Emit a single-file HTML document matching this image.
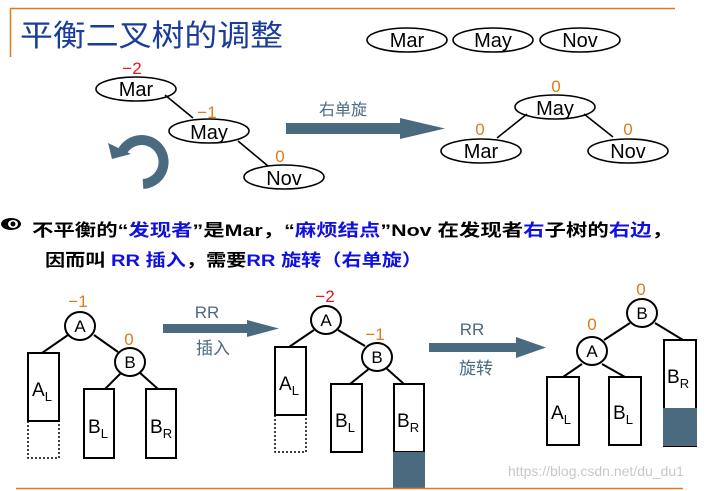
<!DOCTYPE html>
<html><head><meta charset="utf-8"><style>
html,body{margin:0;padding:0;background:#fff;width:713px;height:491px;overflow:hidden}
svg{display:block}
text{font-family:"Liberation Sans","Noto Sans CJK SC",sans-serif}
</style></head><body>
<svg width="713" height="491" viewBox="0 0 713 491" xmlns="http://www.w3.org/2000/svg">
<line x1="10" y1="8.5" x2="675" y2="8.5" stroke="#e07a1c" stroke-width="1.5"/>
<line x1="10.5" y1="8" x2="10.5" y2="57" stroke="#e07a1c" stroke-width="1.5"/>
<text x="20" y="46" font-size="30" fill="#1a3c9c" textLength="263" lengthAdjust="spacingAndGlyphs">平衡二叉树的调整</text>

<g fill="none" stroke="#000" stroke-width="1.6">
<ellipse cx="407" cy="40" rx="40" ry="12"/>
<ellipse cx="493" cy="40" rx="40" ry="12"/>
<ellipse cx="580" cy="40" rx="40" ry="12"/>
<ellipse cx="136" cy="89" rx="40" ry="12"/>
<ellipse cx="209" cy="131" rx="40" ry="12"/>
<ellipse cx="284" cy="177" rx="40" ry="12"/>
<ellipse cx="555" cy="107" rx="40" ry="12"/>
<ellipse cx="481" cy="151" rx="40" ry="12"/>
<ellipse cx="628" cy="151" rx="40" ry="12"/>
<line x1="165" y1="95" x2="193" y2="118"/>
<line x1="238" y1="141" x2="268" y2="166"/>
<line x1="527" y1="114" x2="497" y2="138"/>
<line x1="584" y1="114" x2="613" y2="137"/>
</g>
<g font-size="20" text-anchor="middle" fill="#000">
<text x="407" y="47">Mar</text><text x="493" y="47">May</text><text x="580" y="47">Nov</text>
<text x="136" y="96">Mar</text><text x="209" y="139">May</text><text x="284" y="185">Nov</text>
<text x="555" y="115">May</text><text x="481" y="158">Mar</text><text x="628" y="158">Nov</text>
</g>
<g font-size="17" text-anchor="middle">
<text x="132" y="74" fill="#e8141c">−2</text>
<text x="207" y="118" fill="#e07a1c">−1</text>
<text x="280" y="162" fill="#e07a1c">0</text>
<text x="556" y="92" fill="#e07a1c">0</text>
<text x="480" y="135" fill="#e07a1c">0</text>
<text x="628" y="135" fill="#e07a1c">0</text>
</g>
<path d="M122,152 A22,22 0 1 1 143,184" fill="none" stroke="#4a6a80" stroke-width="10"/>
<polygon points="108,143 131,154 112,159" fill="#4a6a80"/>
<text x="343" y="115" font-size="16" fill="#4a6a80" text-anchor="middle">右单旋</text>
<rect x="286" y="123" width="116" height="11" fill="#4a6a80"/>
<polygon points="400,118 445,128.5 400,139" fill="#4a6a80"/>

<ellipse cx="11" cy="224" rx="10" ry="6" fill="#000"/>
<ellipse cx="13" cy="224" rx="5" ry="4" fill="#fff"/>
<circle cx="13" cy="224" r="2.5" fill="#000"/>
<text x="32" y="236" font-size="17" font-weight="bold" textLength="641" lengthAdjust="spacingAndGlyphs">不平衡的“<tspan fill="#1010e0">发现者</tspan>”是Mar，“<tspan fill="#1010e0">麻烦结点</tspan>”Nov 在发现者<tspan fill="#1010e0">右</tspan>子树的<tspan fill="#1010e0">右边</tspan>，</text>
<text x="45" y="266" font-size="17" font-weight="bold" textLength="377" lengthAdjust="spacingAndGlyphs">因而叫 <tspan fill="#1010e0">RR 插入</tspan>，需要<tspan fill="#1010e0">RR 旋转（右单旋）</tspan></text>

<g fill="none" stroke="#000" stroke-width="2">
<line x1="68" y1="335" x2="42" y2="353"/><line x1="94" y1="335" x2="118" y2="352"/>
<line x1="122" y1="372" x2="105" y2="389"/><line x1="139" y1="372" x2="158" y2="389"/>
<rect x="28" y="353" width="31" height="68"/>
<rect x="84" y="389" width="30" height="69"/>
<rect x="146" y="389" width="30" height="69"/>
<line x1="314" y1="330" x2="289" y2="347"/><line x1="338" y1="330" x2="365" y2="346"/>
<line x1="370" y1="368" x2="350" y2="384"/><line x1="386" y1="368" x2="404" y2="384"/>
<rect x="275" y="347" width="31" height="68"/>
<rect x="331" y="384" width="31" height="68"/>
<rect x="394" y="384" width="30" height="68"/>
<line x1="630" y1="323" x2="604" y2="340"/><line x1="655" y1="323" x2="683" y2="340"/>
<line x1="582" y1="364" x2="563" y2="377"/><line x1="602" y1="364" x2="625" y2="377"/>
<rect x="547" y="377" width="32" height="68"/>
<rect x="609" y="377" width="32" height="68"/>
<rect x="664" y="340" width="32" height="106"/>
</g>
<g fill="none" stroke="#000" stroke-width="1.5" stroke-dasharray="2,2">
<path d="M28,421 V458 H59 V421"/>
<path d="M275,415 V452 H306 V415"/>
</g>
<rect x="393" y="452" width="32" height="37" fill="#4a6a80"/>
<rect x="663" y="408" width="34" height="38" fill="#4a6a80"/>
<g fill="#fff" stroke="#000" stroke-width="2">
<ellipse cx="80" cy="326" rx="15" ry="14"/>
<ellipse cx="130" cy="362" rx="15" ry="14"/>
<ellipse cx="326" cy="320" rx="15" ry="14"/>
<ellipse cx="377" cy="357" rx="15" ry="14"/>
<ellipse cx="642" cy="313" rx="15" ry="14"/>
<ellipse cx="592" cy="351" rx="15" ry="14"/>
</g>
<g font-size="17" text-anchor="middle" fill="#000">
<text x="80" y="332">A</text><text x="130" y="368">B</text>
<text x="326" y="326">A</text><text x="377" y="363">B</text>
<text x="642" y="319">B</text><text x="592" y="357">A</text>
</g>
<g font-size="19" fill="#000">
<text x="32" y="396">A<tspan font-size="13" dy="5">L</tspan></text>
<text x="88" y="433">B<tspan font-size="13" dy="5">L</tspan></text>
<text x="150" y="433">B<tspan font-size="13" dy="5">R</tspan></text>
<text x="279" y="390">A<tspan font-size="13" dy="5">L</tspan></text>
<text x="335" y="427">B<tspan font-size="13" dy="5">L</tspan></text>
<text x="397" y="427">B<tspan font-size="13" dy="5">R</tspan></text>
<text x="551" y="419">A<tspan font-size="13" dy="5">L</tspan></text>
<text x="613" y="419">B<tspan font-size="13" dy="5">L</tspan></text>
<text x="667" y="383">B<tspan font-size="13" dy="5">R</tspan></text>
</g>
<g font-size="17" text-anchor="middle">
<text x="78" y="307" fill="#e07a1c">−1</text>
<text x="129" y="345" fill="#e07a1c">0</text>
<text x="325" y="302" fill="#e8141c">−2</text>
<text x="375" y="340" fill="#e07a1c">−1</text>
<text x="641" y="295" fill="#e07a1c">0</text>
<text x="592" y="330" fill="#e07a1c">0</text>
</g>
<g fill="#4a6a80">
<rect x="163" y="324" width="86" height="9"/>
<polygon points="247,320 279,328.5 247,337"/>
<rect x="429" y="343" width="89" height="9"/>
<polygon points="516,337 546,347.5 516,358"/>
</g>
<g font-size="17" fill="#4a6a80" text-anchor="middle">
<text x="207" y="318">RR</text><text x="213" y="354">插入</text>
<text x="472" y="335">RR</text><text x="476" y="374">旋转</text>
</g>
<line x1="16" y1="488.5" x2="683" y2="488.5" stroke="#e07a1c" stroke-width="1.5"/>
<text x="508" y="476" font-size="14" fill="#c8c8c8">https://blog.csdn.net/du_du1</text>
</svg>
</body></html>
